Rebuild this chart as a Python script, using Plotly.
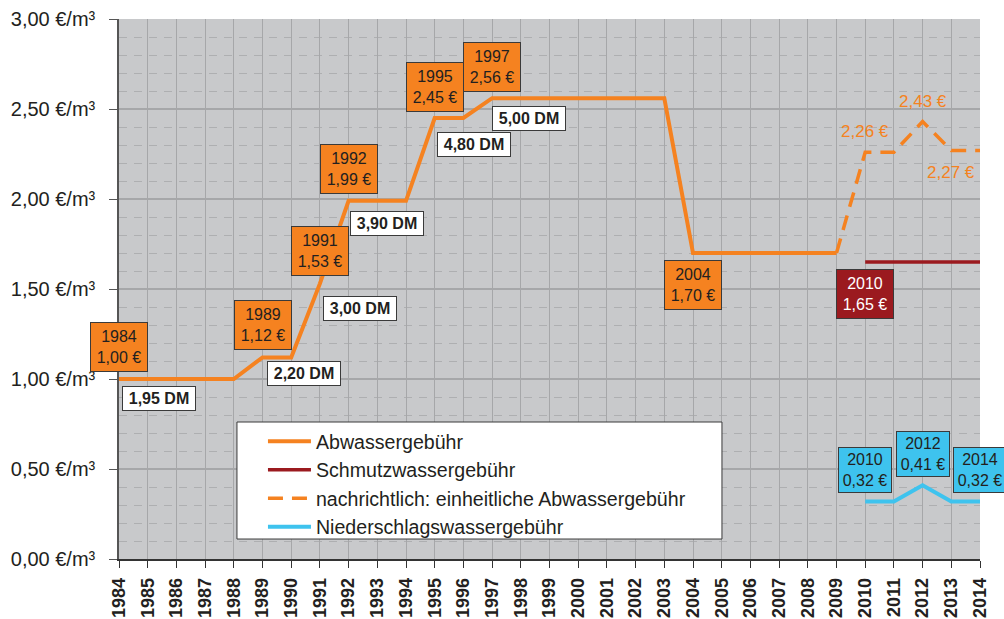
import plotly.graph_objects as go

# ---- data ----
abw_years = list(range(1984, 2010))
abw_values = [1.00, 1.00, 1.00, 1.00, 1.00, 1.12, 1.12, 1.53, 1.99, 1.99, 1.99,
              2.45, 2.45, 2.56, 2.56, 2.56, 2.56, 2.56, 2.56, 2.56,
              1.70, 1.70, 1.70, 1.70, 1.70, 1.70]
einh_years = [2009, 2010, 2011, 2012, 2013, 2014]
einh_values = [1.70, 2.26, 2.26, 2.43, 2.27, 2.27]
schmutz_years = [2010, 2011, 2012, 2013, 2014]
schmutz_values = [1.65, 1.65, 1.65, 1.65, 1.65]
nieder_years = [2010, 2011, 2012, 2013, 2014]
nieder_values = [0.32, 0.32, 0.41, 0.32, 0.32]

euro_label_years = [1984, 1989, 1991, 1992, 1995, 1997, 2004]
dm_label_years = [1984, 1989, 1991, 1992, 1995, 1997]
dm_labels = ["1,95 DM", "2,20 DM", "3,00 DM", "3,90 DM", "4,80 DM", "5,00 DM"]
einh_label_years = [2010, 2012, 2013]
schmutz_label_years = [2010]
nieder_label_years = [2010, 2012, 2014]

x_ticks = list(range(1984, 2015))
y_ticks = [0, 0.5, 1.0, 1.5, 2.0, 2.5, 3.0]
y_ticklabels = ["0,00 €/m³", "0,50 €/m³", "1,00 €/m³", "1,50 €/m³",
                "2,00 €/m³", "2,50 €/m³", "3,00 €/m³"]

# ---- styles ----
ORANGE = "#f58220"
DARKRED = "#9b1a1f"
BLUE = "#3ec3ee"
FONT = "Arial, Liberation Sans, sans-serif"
TXT = "#231f20"

euro_yshift = [32, 32, 33, 32, 31, 31, -32]
dm_shift = [(3, -19), (4, -16), (3, -25), (1, -23), (2, -26), (0, -20)]
einh_yshift = [21, 20, -22]


def fmt(v):
    return f"{v:.2f}".replace(".", ",") + " €"


def val(years, values, y):
    return values[years.index(y)]


fig = go.Figure()
fig.add_trace(go.Scatter(x=abw_years, y=abw_values, mode="lines", name="Abwassergebühr",
                         line=dict(color=ORANGE, width=4), legendgroup="a"))
fig.add_trace(go.Scatter(x=schmutz_years, y=schmutz_values, mode="lines", name="Schmutzwassergebühr",
                         line=dict(color=DARKRED, width=3.5), legendgroup="b"))
fig.add_trace(go.Scatter(x=einh_years, y=einh_values, mode="lines",
                         name="nachrichtlich: einheitliche Abwassergebühr",
                         line=dict(color=ORANGE, width=3.5, dash="15px,9px"), legendgroup="c"))
fig.add_trace(go.Scatter(x=nieder_years, y=nieder_values, mode="lines", name="Niederschlagswassergebühr",
                         line=dict(color=BLUE, width=4), legendgroup="d"))

ann = []
for y, ys in zip(euro_label_years, euro_yshift):
    v = val(abw_years, abw_values, y)
    ann.append(dict(x=y, y=v, xref="x", yref="y", text=f"{y}<br>{fmt(v)}", showarrow=False,
                    yshift=ys, bgcolor=ORANGE, bordercolor="#3a3a3a", borderwidth=1,
                    width=56, height=48, borderpad=0, font=dict(family=FONT, size=16, color=TXT)))
for y, t, (xs, ys) in zip(dm_label_years, dm_labels, dm_shift):
    v = val(abw_years, abw_values, y)
    ann.append(dict(x=y, y=v, xref="x", yref="y", text=f"<b>{t}</b>", showarrow=False,
                    xanchor="left", xshift=xs, yshift=ys, bgcolor="white", bordercolor="#3a3a3a",
                    borderwidth=1, width=72, height=23, borderpad=0,
                    font=dict(family=FONT, size=16, color=TXT)))
for y, ys in zip(einh_label_years, einh_yshift):
    v = val(einh_years, einh_values, y)
    ann.append(dict(x=y, y=v, xref="x", yref="y", text=fmt(v), showarrow=False, yshift=ys,
                    font=dict(family=FONT, size=17, color=ORANGE)))
for y in schmutz_label_years:
    v = val(schmutz_years, schmutz_values, y)
    ann.append(dict(x=y, y=v, xref="x", yref="y", text=f"{y}<br>{fmt(v)}", showarrow=False,
                    yshift=-32, bgcolor=DARKRED, bordercolor="#3a3a3a", borderwidth=1,
                    width=56, height=48, borderpad=0, font=dict(family=FONT, size=16, color="white")))
for y in nieder_label_years:
    v = val(nieder_years, nieder_values, y)
    ann.append(dict(x=y, y=v, xref="x", yref="y", text=f"{y}<br>{fmt(v)}", showarrow=False,
                    yshift=31, bgcolor=BLUE, bordercolor="#3a3a3a", borderwidth=1,
                    width=52, height=44, borderpad=0, font=dict(family=FONT, size=16, color=TXT)))

# legend frame (box drawn as a shape; legend itself transparent)
legend_frame = dict(type="rect", xref="paper", yref="paper",
                    x0=0.137, x1=0.7003, y0=0.037, y1=0.2537,
                    fillcolor="white", line=dict(color="#3a3a3a", width=1), layer="above")

fig.update_layout(
    width=1004, height=619,
    margin=dict(l=119, r=24, t=19, b=60, autoexpand=False),
    paper_bgcolor="white", plot_bgcolor="#c8c9cb",
    font=dict(family=FONT, color=TXT),
    showlegend=True,
    legend=dict(x=0.1672, y=0.2537, xanchor="left", yanchor="top",
                bgcolor="rgba(0,0,0,0)", borderwidth=0, itemwidth=43,
                font=dict(family=FONT, size=19.6, color=TXT), tracegroupgap=0,
                traceorder="grouped"),
    shapes=[legend_frame],
    annotations=ann,
    hovermode=False,
)
fig.update_xaxes(range=[1984, 2014], tickmode="array", tickvals=x_ticks,
                 ticktext=[str(v) for v in x_ticks], tickangle=-90, automargin=False,
                 tickfont=dict(family=FONT, size=18, color=TXT, weight="bold"),
                 ticklabelstandoff=3,
                 showgrid=True, gridcolor="#a6a7a9", gridwidth=1,
                 showline=True, linecolor="#333", linewidth=1.5,
                 ticks="outside", ticklen=7, tickcolor="#333", zeroline=False)
fig.update_yaxes(range=[0, 3], tickmode="array", tickvals=y_ticks, ticktext=y_ticklabels,
                 tickfont=dict(family=FONT, size=20, color=TXT), automargin=False,
                 ticklabelstandoff=10,
                 showgrid=True, gridcolor="#a6a7a9", gridwidth=1.5,
                 minor=dict(dtick=0.1, tick0=0, showgrid=True, gridcolor="#aeafb1",
                            griddash="8px,7px", gridwidth=1),
                 showline=True, linecolor="#555", linewidth=1.5,
                 ticks="outside", ticklen=8, tickcolor="#555", zeroline=False)

fig.write_html("out.html", config={"displayModeBar": False},
               post_script="document.body.style.margin='0';document.body.style.overflow='hidden';")
